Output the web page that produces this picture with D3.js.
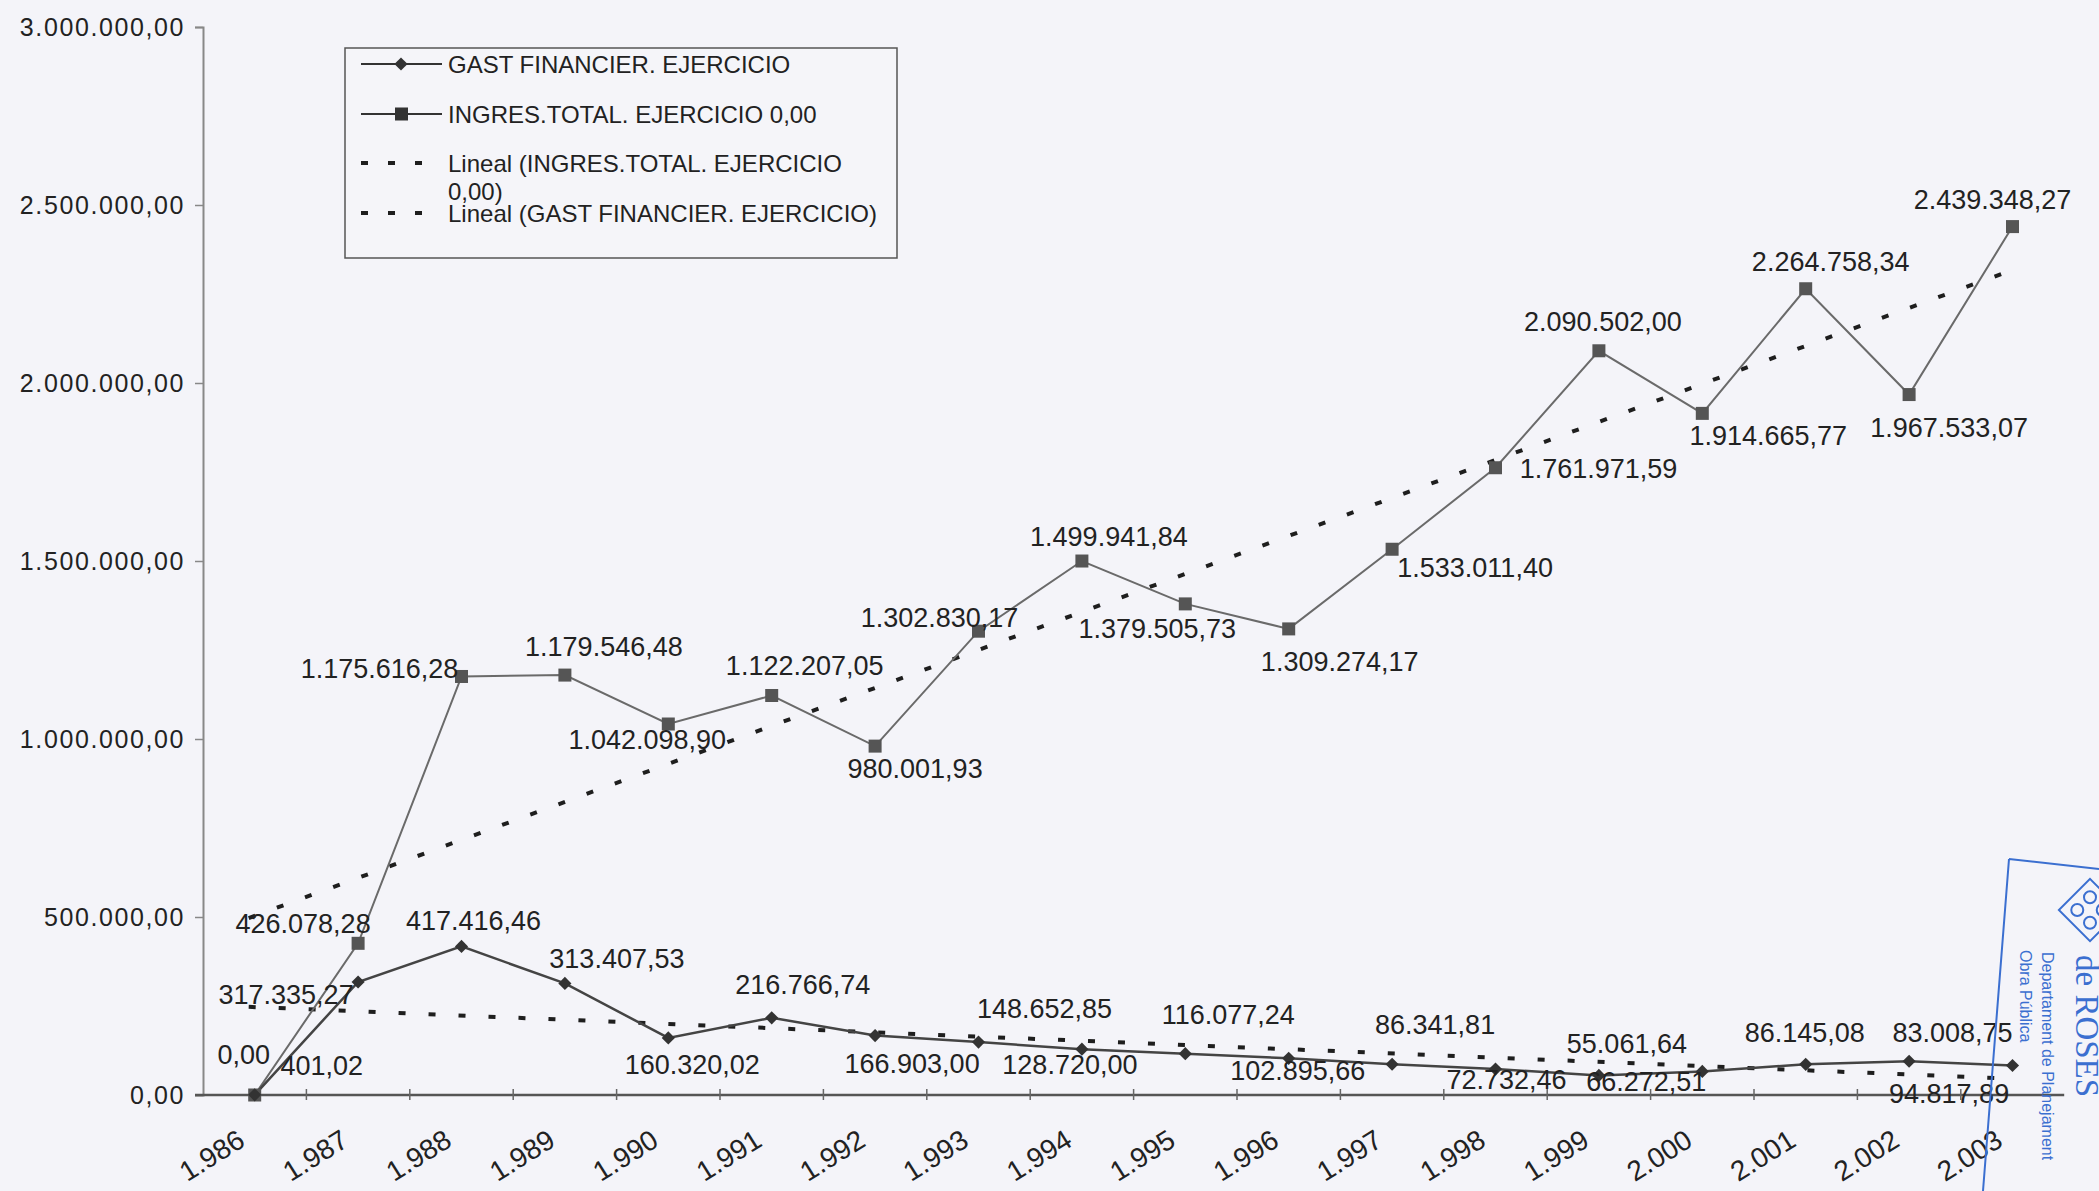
<!DOCTYPE html>
<html>
<head>
<meta charset="utf-8">
<script src="https://cdn.jsdelivr.net/npm/d3@7"></script>
<style>
  body { margin: 0; background: #f4f4f9; }
  svg { display: block; font-family: "Liberation Sans", Arial, sans-serif; }
</style>
</head>
<body>
<div id="chart"></div>
<script>
// =========================
// DATA
// =========================
const years = ["1.986","1.987","1.988","1.989","1.990","1.991","1.992","1.993","1.994",
               "1.995","1.996","1.997","1.998","1.999","2.000","2.001","2.002","2.003"];

const ingresTotal = [0, 426078.28, 1175616.28, 1179546.48, 1042098.90, 1122207.05, 980001.93,
                     1302830.17, 1499941.84, 1379505.73, 1309274.17, 1533011.40, 1761971.59,
                     2090502.00, 1914665.77, 2264758.34, 1967533.07, 2439348.27];

const gastFinancier = [401.02, 317335.27, 417416.46, 313407.53, 160320.02, 216766.74, 166903.00,
                       148652.85, 128720.00, 116077.24, 102895.66, 86341.81, 72732.46,
                       55061.64, 66272.51, 86145.08, 94817.89, 83008.75];

const yTicks = [0, 500000, 1000000, 1500000, 2000000, 2500000, 3000000];

const legendLabels = [
  "GAST FINANCIER. EJERCICIO",
  "INGRES.TOTAL. EJERCICIO 0,00",
  "Lineal (INGRES.TOTAL. EJERCICIO|0,00)",
  "Lineal (GAST FINANCIER. EJERCICIO)"
];

// label placement (px offsets from each point), hand-placed as in the original
const ingresLabelOff = [[-11,-40],[-55,-19],[-82,-7],[39,-28],[-21,16],[33,-29],[40,23],[-39,-13],[27,-24],
                        [-28,25],[51,33],[83,19],[103,1],[4,-29],[66,23],[25,-27],[40,33],[-20,-27]];
const gastLabelOff = [[67,-29],[-72,13],[12,-25],[52,-24],[24,27],[31,-33],[37,28],[66,-33],[-12,16],
                      [43,-39],[9,13],[43,-39],[11,11],[28,-31],[-56,11],[-1,-31],[40,33],[-60,-32]];

// =========================
// SETUP
// =========================
const width = 2099, height = 1191;
const margin = { top: 27, left: 203, bottom: 96 };
const plotW = 18 * 103.4;

const svg = d3.select("#chart").append("svg")
    .attr("width", width)
    .attr("height", height);

const fmt = d3.formatLocale({ decimal: ",", thousands: ".", grouping: [3], currency: ["", ""] }).format(",.2f");

const x = d3.scaleBand()
    .domain(years)
    .range([margin.left, margin.left + plotW]);

const y = d3.scaleLinear()
    .domain([0, 3000000])
    .range([height - margin.bottom, margin.top]);

const cx = d => x(d) + x.bandwidth() / 2;

// ---- Y AXIS ----
const yAxis = svg.append("g")
    .attr("transform", `translate(${margin.left},0)`)
    .call(d3.axisLeft(y).tickValues(yTicks).tickSize(8).tickPadding(10).tickFormat(fmt));
yAxis.select(".domain").attr("stroke", "#888").attr("stroke-width", 2);
yAxis.selectAll(".tick line").attr("stroke", "#888").attr("stroke-width", 1.5);
yAxis.selectAll(".tick text")
    .attr("fill", "#222")
    .attr("font-size", 25)
    .attr("letter-spacing", 1.6)
    .attr("font-family", "Liberation Sans, Arial, sans-serif");

// ---- X AXIS ----
const xAxisY = y(0);
svg.append("line")
    .attr("x1", margin.left - 8).attr("x2", margin.left + plotW)
    .attr("y1", xAxisY).attr("y2", xAxisY)
    .attr("stroke", "#555").attr("stroke-width", 2.5);

svg.selectAll(".xtick")
    .data(years.slice(1))
    .enter().append("line")
    .attr("x1", d => x(d)).attr("x2", d => x(d))
    .attr("y1", xAxisY - 6).attr("y2", xAxisY + 5)
    .attr("stroke", "#666").attr("stroke-width", 1.5);

svg.selectAll(".xlabel")
    .data(years)
    .enter().append("text")
    .attr("transform", d => `translate(${cx(d) - 8},${xAxisY + 50}) rotate(-32)`)
    .attr("text-anchor", "end")
    .attr("font-size", 28)
    .attr("fill", "#222")
    .text(d => d);

// ---- TRENDLINES (least squares on series index) ----
function linearFit(vals) {
  const n = vals.length;
  const xs = d3.range(n);
  const mx = d3.mean(xs), my = d3.mean(vals);
  const b = d3.sum(xs, i => (i - mx) * (vals[i] - my)) / d3.sum(xs, i => (i - mx) ** 2);
  const a = my - b * mx;
  return i => a + b * i;
}

[ingresTotal, gastFinancier].forEach(vals => {
  const f = linearFit(vals);
  svg.append("line")
      .attr("x1", cx(years[0]) - 6).attr("y1", y(f(-0.06)))
      .attr("x2", cx(years[years.length - 1])).attr("y2", y(f(years.length - 1)))
      .attr("stroke", "#1e1e1e")
      .attr("stroke-width", 4)
      .attr("stroke-dasharray", "7,23");
});

// ---- SERIES LINES ----
const line = vals => d3.line()
    .x((d, i) => cx(years[i]))
    .y(d => y(d))(vals);

svg.append("path")
    .attr("d", line(ingresTotal))
    .attr("fill", "none")
    .attr("stroke", "#6a6a6a")
    .attr("stroke-width", 2);

svg.append("path")
    .attr("d", line(gastFinancier))
    .attr("fill", "none")
    .attr("stroke", "#444")
    .attr("stroke-width", 2.5);

// ---- MARKERS ----
svg.selectAll(".sq")
    .data(ingresTotal)
    .enter().append("rect")
    .attr("x", (d, i) => cx(years[i]) - 6.5)
    .attr("y", d => y(d) - 6.5)
    .attr("width", 13).attr("height", 13)
    .attr("fill", "#555");

const diamond = d3.symbol().type(d3.symbolDiamond2).size(110);
svg.selectAll(".dm")
    .data(gastFinancier)
    .enter().append("path")
    .attr("d", diamond)
    .attr("transform", (d, i) => `translate(${cx(years[i])},${y(d)})`)
    .attr("fill", "#333");

// ---- DATA LABELS ----
function addLabels(vals, offs) {
  svg.append("g").selectAll("text")
      .data(vals)
      .enter().append("text")
      .attr("x", (d, i) => cx(years[i]) + offs[i][0])
      .attr("y", (d, i) => y(d) + offs[i][1])
      .attr("text-anchor", "middle")
      .attr("dominant-baseline", "central")
      .attr("font-size", 27)
      .attr("fill", "#222")
      .text(d => fmt(d));
}
addLabels(ingresTotal, ingresLabelOff);
addLabels(gastFinancier, gastLabelOff);

// ---- LEGEND ----
const lg = svg.append("g").attr("transform", "translate(345,48)");
lg.append("rect")
    .attr("width", 552).attr("height", 210)
    .attr("fill", "#f5f5f9")
    .attr("stroke", "#555").attr("stroke-width", 1.5);

const rowY = [16, 66, 115, 165];
legendLabels.forEach((lab, i) => {
  const ry = rowY[i];
  if (i < 2) {
    lg.append("line").attr("x1", 16).attr("x2", 97).attr("y1", ry).attr("y2", ry)
        .attr("stroke", "#333").attr("stroke-width", 2);
    if (i === 0) {
      lg.append("path").attr("d", diamond).attr("transform", `translate(56,${ry})`).attr("fill", "#333");
    } else {
      lg.append("rect").attr("x", 50).attr("y", ry - 6.5).attr("width", 13).attr("height", 13).attr("fill", "#333");
    }
  } else {
    lg.append("line").attr("x1", 16).attr("x2", 86).attr("y1", ry).attr("y2", ry)
        .attr("stroke", "#1e1e1e").attr("stroke-width", 4).attr("stroke-dasharray", "7,20");
  }
  const parts = lab.split("|");
  parts.forEach((p, k) => {
    lg.append("text")
        .attr("x", 103).attr("y", ry + k * 28)
        .attr("dominant-baseline", "central")
        .attr("font-size", 24)
        .attr("fill", "#222")
        .text(p);
  });
});

// ---- STAMP (blue, lower right) ----
const blue = "#3b6fd0";
svg.append("path")
    .attr("d", "M2009,859 L1983,1191 M2009,859 L2099,869")
    .attr("fill", "none").attr("stroke", blue).attr("stroke-width", 2);
const logo = svg.append("g").attr("transform", "translate(2090,910) rotate(45)");
logo.append("rect").attr("x", -22).attr("y", -22).attr("width", 44).attr("height", 44)
    .attr("fill", "none").attr("stroke", blue).attr("stroke-width", 2);
[[-9,-9],[9,-9],[-9,9],[9,9]].forEach(p => {
  logo.append("circle").attr("cx", p[0]).attr("cy", p[1]).attr("r", 6)
      .attr("fill", "none").attr("stroke", blue).attr("stroke-width", 2);
});
const st = svg.append("g").attr("fill", blue);
st.append("text")
    .attr("transform", "translate(2076,955) rotate(90)")
    .attr("font-family", "Liberation Serif, serif")
    .attr("font-size", 33)
    .text("de ROSES");
st.append("text")
    .attr("transform", "translate(2042,952) rotate(90)")
    .attr("font-size", 16)
    .text("Departament de Planejament");
st.append("text")
    .attr("transform", "translate(2020,950) rotate(90)")
    .attr("font-size", 16)
    .text("Obra Pública");
</script>
</body>
</html>
